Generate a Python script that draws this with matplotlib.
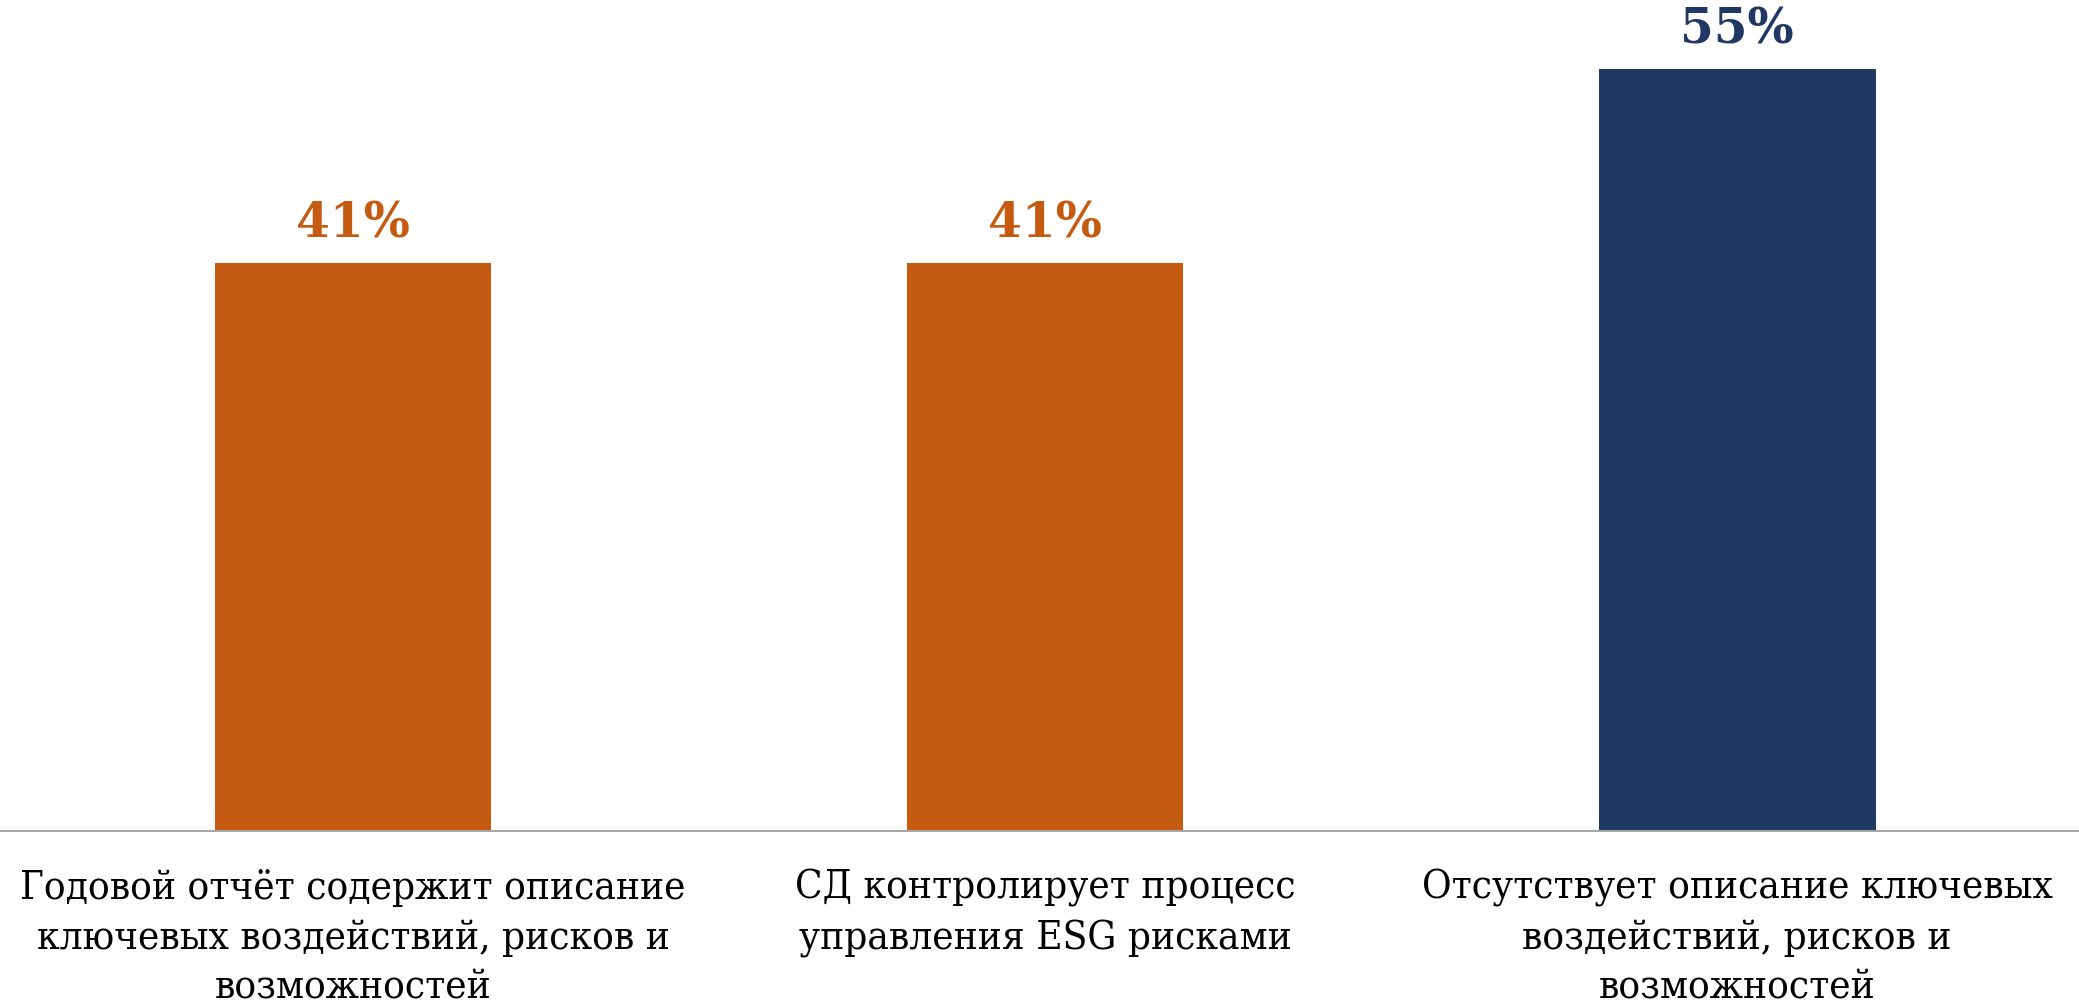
import matplotlib
matplotlib.use("Agg")
import matplotlib.pyplot as plt
from matplotlib.font_manager import FontProperties

categories = [
    "Годовой отчёт содержит описание\nключевых воздействий, рисков и\nвозможностей",
    "СД контролирует процесс\nуправления ESG рисками",
    "Отсутствует описание ключевых\nвоздействий, рисков и\nвозможностей",
]
values = [0.41, 0.41, 0.55]
value_labels = ["41%", "41%", "55%"]
colors = ["#C55A11", "#C55A11", "#203864"]

fig = plt.figure(figsize=(20.79, 10.05), dpi=100)
ax = fig.add_axes([0.0, 0.173, 1.0, 0.827])
x = range(len(categories))
ax.bar(x, values, width=0.4, color=colors, zorder=2)
ax.set_xlim(-0.51, 2.494)
ax.set_ylim(0, 0.6)

for s in ["top", "right", "left"]:
    ax.spines[s].set_visible(False)
ax.spines["bottom"].set_color("#A6A6A6")
ax.spines["bottom"].set_linewidth(1.5)
ax.set_yticks([])
ax.set_xticks(list(x))

cat_font = FontProperties(family="DejaVu Serif", stretch="condensed", size=29)
ax.set_xticklabels(categories, fontproperties=cat_font, linespacing=1.44)
ax.tick_params(axis="x", length=0, pad=27)

val_font = FontProperties(family="DejaVu Serif", weight="bold", size=35)
for xi, v, lab, c in zip(x, values, value_labels, colors):
    ax.annotate(lab, (xi, v), xytext=(0, 11), textcoords="offset points",
                ha="center", va="bottom", color=c, fontproperties=val_font)

fig.savefig("out.png", dpi=100)
